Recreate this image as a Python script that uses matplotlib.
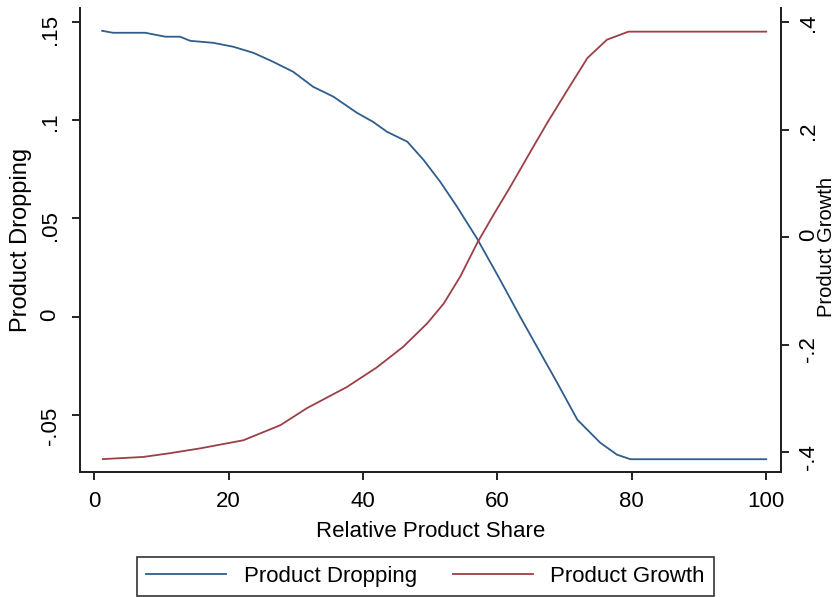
import numpy as np
import matplotlib.pyplot as plt
from matplotlib.lines import Line2D

plt.rcParams['font.family'] = ['Liberation Sans', 'DejaVu Sans']

# Product Dropping (left axis)
x_drop = [1.2, 2.8, 7.6, 10.6, 12.8, 14.3, 17.7, 20.7, 23.7, 26.6, 29.6, 32.6,
          35.6, 39.1, 41.5, 43.6, 46.6, 49.0, 51.5, 54.0, 57.0, 60.4, 63.4,
          66.4, 68.9, 71.9, 75.3, 77.8, 79.8, 100]
y_drop = [0.1454, 0.1444, 0.1444, 0.1424, 0.1424, 0.1403, 0.1393, 0.1373,
          0.1342, 0.1297, 0.1246, 0.1169, 0.1119, 0.1037, 0.0991, 0.0940,
          0.0890, 0.0798, 0.0686, 0.0559, 0.0396, 0.0188, -0.0001, -0.0184,
          -0.0336, -0.0524, -0.0641, -0.0702, -0.0725, -0.0725]

# Product Growth (right axis)
x_grow = [1.3, 7.3, 11.3, 15.8, 22.2, 27.7, 31.7, 37.6, 42.0, 46.0, 49.6,
          52.0, 54.5, 57.0, 59.5, 61.9, 65.3, 67.4, 70.4, 73.4, 76.3, 79.5, 100]
y_grow = [-0.413, -0.409, -0.402, -0.393, -0.378, -0.350, -0.318, -0.279,
          -0.243, -0.204, -0.160, -0.124, -0.073, -0.011, 0.043, 0.093, 0.167,
          0.212, 0.273, 0.333, 0.367, 0.382, 0.382]

x_ticks = [0, 20, 40, 60, 80, 100]
left_ticks = [-0.05, 0, 0.05, 0.1, 0.15]
left_labels = ["-.05", "0", ".05", ".1", ".15"]
right_ticks = [-0.4, -0.2, 0, 0.2, 0.4]
right_labels = ["-.4", "-.2", "0", ".2", ".4"]

blue = "#2f5d8c"
red = "#9c3f47"
fs = 16

fig = plt.figure(figsize=(8.39, 5.97), dpi=100)
ax = fig.add_axes([80 / 839, 1 - 472 / 597, 701 / 839, 464 / 597])
ax2 = ax.twinx()

ax.plot(x_drop, y_drop, color=blue, linewidth=1.3)
ax2.plot(x_grow, y_grow, color=red, linewidth=1.3)

ax.set_xlim(-2.1, 102.2)
ax.set_ylim(-0.079, 0.157)
ax2.set_ylim(-0.437, 0.426)

ax.set_xticks(x_ticks)
ax.set_yticks(left_ticks)
ax.set_yticklabels(left_labels)
ax2.set_yticks(right_ticks)
ax2.set_yticklabels(right_labels)

for a in (ax, ax2):
    a.spines['top'].set_visible(False)
    for s in a.spines.values():
        s.set_linewidth(1.4)
        s.set_color("#222222")
    a.tick_params(length=6, width=1.4, color="#222222", labelsize=fs, pad=8)
ax.tick_params(axis='y', labelrotation=90)
ax2.tick_params(axis='y', labelrotation=90, pad=6)

ax.set_xlabel("Relative Product Share", fontsize=fs, labelpad=6)
ax.set_ylabel("Product Dropping", fontsize=17)
ax.yaxis.set_label_coords(-0.068, 0.5)
ax2.set_ylabel("Product Growth", fontsize=14.5)
ax2.yaxis.set_label_coords(1.052, 0.484)

handles = [Line2D([], [], color=blue, linewidth=1.3),
           Line2D([], [], color=red, linewidth=1.3)]
leg = fig.legend(handles, ["Product Dropping", "Product Growth"], loc='center',
                 bbox_to_anchor=(425.5 / 839, 1 - 576.5 / 597), ncol=2,
                 fontsize=fs, frameon=True, fancybox=False, edgecolor='black',
                 handlelength=3.6, columnspacing=1.6, borderpad=0.4)
leg.get_frame().set_linewidth(1.2)

fig.savefig("out.png", dpi=100)
